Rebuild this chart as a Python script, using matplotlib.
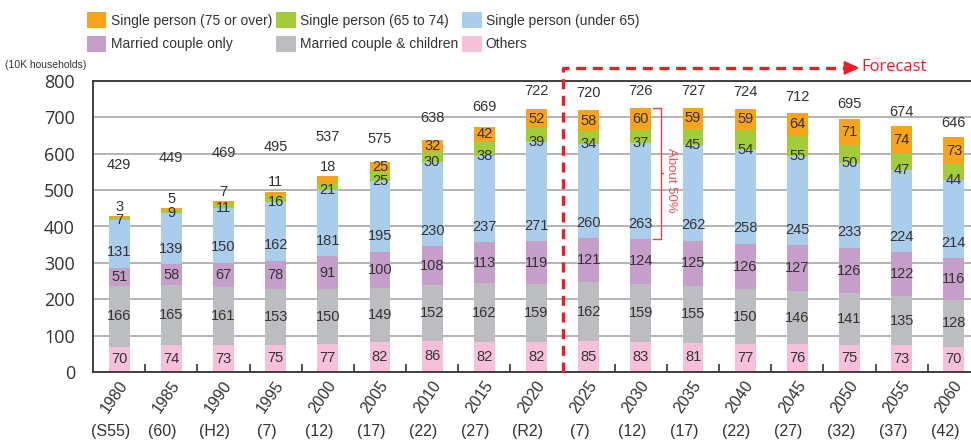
"""Household composition in Japan, 1980-2060 (stacked bars)."""

import matplotlib.pyplot as plt
import matplotlib.transforms as mtransforms
from matplotlib import font_manager
from matplotlib.patches import Patch, Polygon


# ------------------------------- data ---------------------------------------

years = [1980, 1985, 1990, 1995, 2000, 2005, 2010, 2015, 2020,
         2025, 2030, 2035, 2040, 2045, 2050, 2055, 2060]
eras = ['(S55)', '(60)', '(H2)', '(7)', '(12)', '(17)', '(22)', '(27)', '(R2)',
        '(7)', '(12)', '(17)', '(22)', '(27)', '(32)', '(37)', '(42)']

others = [70, 74, 73, 75, 77, 82, 86, 82, 82, 85, 83, 81, 77, 76, 75, 73, 70]
couple_children = [166, 165, 161, 153, 150, 149, 152, 162, 159,
                   162, 159, 155, 150, 146, 141, 135, 128]
couple_only = [51, 58, 67, 78, 91, 100, 108, 113, 119,
               121, 124, 125, 126, 127, 126, 122, 116]
single_under65 = [131, 139, 150, 162, 181, 195, 230, 237, 271,
                  260, 263, 262, 258, 245, 233, 224, 214]
single_65_74 = [7, 9, 11, 16, 21, 25, 30, 38, 39, 34, 37, 45, 54, 55, 50, 47, 44]
single_75 = [3, 5, 7, 11, 18, 25, 32, 42, 52, 58, 60, 59, 59, 64, 71, 74, 73]
totals = [429, 449, 469, 495, 537, 575, 638, 669, 722,
          720, 726, 727, 724, 712, 695, 674, 646]

forecast_start = 2025
bracket_year = 2030

# bottom -> top
series = [
    ('Others', others, '#F6C0DA'),
    ('Married couple & children', couple_children, '#BCBDC0'),
    ('Married couple only', couple_only, '#C59EC9'),
    ('Single person (under 65)', single_under65, '#ABCDEC'),
    ('Single person (65 to 74)', single_65_74, '#A3CC3A'),
    ('Single person (75 or over)', single_75, '#F7A31C'),
]

# ------------------------------- fonts --------------------------------------

installed = {f.name for f in font_manager.fontManager.ttflist}
narrow = 'Liberation Sans' if 'Liberation Sans' in installed else 'DejaVu Sans'
main = 'Open Sans' if 'Open Sans' in installed else 'DejaVu Sans'
txt = '#333333'
red = '#EE1C25'

plt.rcParams['font.family'] = main

# ------------------------------- figure -------------------------------------

W, H = 971, 448
fig = plt.figure(figsize=(W / 100, H / 100), dpi=100)
# right edge of the plot runs a little past the figure
ax = fig.add_axes([93 / W, 76 / H, 887 / W, 291 / H])

x = list(range(len(years)))
width = 0.40
bottom = [0] * len(years)
for name, vals, color in series:
    ax.bar(x, vals, width, bottom=bottom, color=color, edgecolor='none', zorder=2)
    bottom = [b + v for b, v in zip(bottom, vals)]

ax.set_xlim(-0.5, len(years) - 0.5)
ax.set_ylim(0, 800)
ax.set_yticks(range(0, 801, 100))
ax.tick_params(axis='y', length=0, pad=13, labelsize=13, labelcolor=txt)
ax.set_xticks([])
ax.set_xticks([i + 0.5 for i in x], minor=True)
ax.tick_params(axis='x', which='minor', direction='in', length=6, width=1.2,
               color='#333333', labelbottom=False)
ax.yaxis.grid(True, color='#AFAFAF', lw=1.3, zorder=0)
ax.set_axisbelow(True)
for side in ('left', 'top', 'bottom', 'right'):
    ax.spines[side].set_color('#333333')
    ax.spines[side].set_linewidth(1.3)

# ------------------------------- labels -------------------------------------

lab = dict(ha='center', va='center', fontsize=10.5, color=txt, family=narrow,
           zorder=4)

for i in x:
    b0 = others[i]
    b1 = b0 + couple_children[i]
    b2 = b1 + couple_only[i]
    b3 = b2 + single_under65[i]
    b4 = b3 + single_65_74[i]
    top = b4 + single_75[i]

    ax.text(i, b0 / 2, others[i], **lab)
    ax.text(i, (b0 + b1) / 2, couple_children[i], **lab)
    ax.text(i, (b1 + b2) / 2, couple_only[i], **lab)
    ax.annotate(single_under65[i], (i, b2), xytext=(0, 11),
                textcoords='offset points', **lab)
    ax.text(i, b3, single_65_74[i], **lab)

    # small oldest-single counts sit on top of the bar
    if single_75[i] < 20:
        y75, dy = top, 7
    else:
        y75, dy = (b4 + top) / 2, 0
    ax.annotate(single_75[i], (i, y75), xytext=(0, dy),
                textcoords='offset points', **lab)
    ax.annotate(totals[i], (i, y75), xytext=(0, dy + 20 + max(0, 20 - single_75[i]) * 0.6),
                textcoords='offset points', **lab)

# x labels: rotated years and era names below
trans = mtransforms.blended_transform_factory(ax.transData, ax.transAxes)
for i, (yr, era) in enumerate(zip(years, eras)):
    ax.text(i + 0.1, -0.035, str(yr), transform=trans, rotation=55,
            rotation_mode='anchor', ha='right', va='center', fontsize=11.5,
            color=txt, family=narrow)
    ax.text(i - 0.17, -0.205, era, transform=trans, ha='center', va='center',
            fontsize=11.5, color=txt, family=narrow)

fig.text(5 / W, 1 - 65 / H, '(10K households)', ha='left', va='center',
         fontsize=7.5, color=txt, family=narrow)

# ------------------------------- forecast marker ----------------------------

fx = years.index(forecast_start) - 0.5
line_top = 836
arrow_x = 13.9
ax.plot([fx, fx, arrow_x], [0, line_top, line_top], color=red, lw=2.4,
        ls=(0, (3, 2)), clip_on=False, zorder=5)
ax.add_patch(Polygon([[arrow_x, line_top - 17], [arrow_x, line_top + 17],
                      [arrow_x + 0.26, line_top]], closed=True, color=red,
                     clip_on=False, zorder=5))
ax.text(arrow_x + 0.33, line_top + 2, 'Forecast', ha='left', va='center',
        fontsize=12, color=red)

# bracket around the single-person share
bi = years.index(bracket_year)
b_lo = others[bi] + couple_children[bi] + couple_only[bi]
b_hi = totals[bi]
bx = bi + 0.38
ax.plot([bi + 0.24, bx, bx, bi + 0.24], [b_hi, b_hi, b_lo, b_lo],
        color='#E8404A', lw=1.0, zorder=5)
ax.plot([bx, bx + 0.05], [(b_hi + b_lo) / 2] * 2, color='#E8404A', lw=1.0, zorder=5)
ax.text(bi + 0.58, (b_hi + b_lo) / 2 - 20, 'About 50%', rotation=-90,
        ha='center', va='center', fontsize=9.5, color='#F0505A', family=narrow)

# ------------------------------- legend -------------------------------------

handles = {name: Patch(facecolor=color, edgecolor='none') for name, _, color in series}
order = ['Single person (75 or over)', 'Married couple only',
         'Single person (65 to 74)', 'Married couple & children',
         'Single person (under 65)', 'Others']
fig.legend([handles[n] for n in order], order, ncol=3, loc='upper left',
           bbox_to_anchor=(87 / W, 1 - 12 / H), frameon=False,
           prop={'family': narrow, 'size': 10},
           labelcolor=txt, handlelength=1.4, handleheight=1.4,
           handletextpad=0.3, columnspacing=0.3, labelspacing=0.55,
           borderpad=0, borderaxespad=0)

fig.savefig('out.png', dpi=100)
